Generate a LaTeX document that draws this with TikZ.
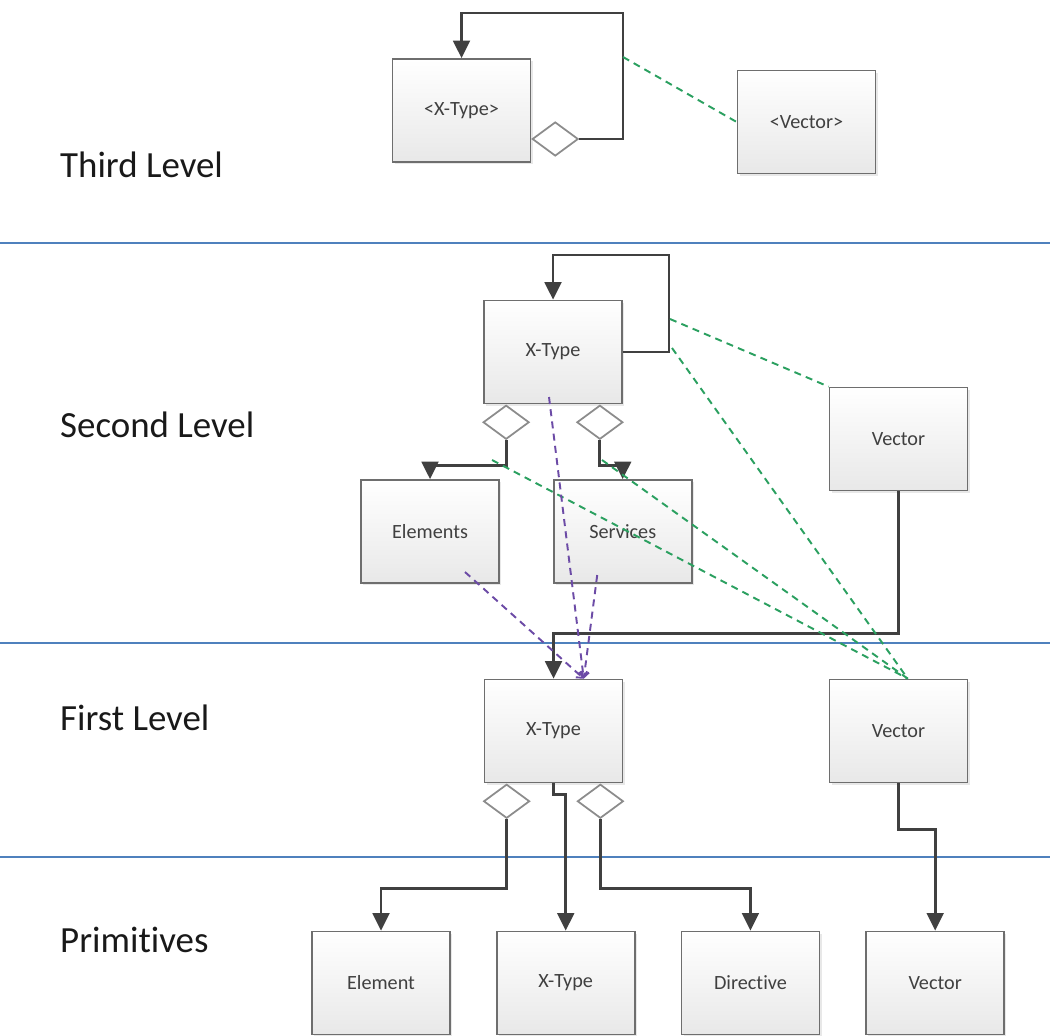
\documentclass[tikz,border=0pt]{standalone}
\usepackage{fontspec}
\setmainfont{Carlito}[Ligatures=NoCommon]
\definecolor{LevelBlue}{HTML}{4F81BD}
\definecolor{LinkGreen}{HTML}{2BA060}
\definecolor{DepPurple}{HTML}{6C4BA6}
\definecolor{BoxLine}{HTML}{6E6E6E}
\definecolor{LineDark}{HTML}{404040}
\definecolor{BoxText}{HTML}{404040}
\usetikzlibrary{arrows.meta, positioning, shapes.geometric, shadows}

\begin{document}
\begin{tikzpicture}[
    x=0.02cm, y=-0.02cm,
    cls/.style={draw=BoxLine, line width=1pt, top color=white, bottom color=black!9,
      minimum width=2.76cm, minimum height=2.06cm, inner sep=0pt,
      font=\fontsize{11.5}{13}\selectfont, text=BoxText,
      drop shadow={opacity=0.18, shadow xshift=1.2pt, shadow yshift=-1.2pt}},
    agg/.style={diamond, draw=black!45, fill=white, line width=1pt,
      minimum width=0.92cm, minimum height=0.68cm, inner sep=0pt},
    conn/.style={draw=LineDark, line width=1.6pt, -{Triangle[length=10pt, width=9.5pt]}},
    assoc/.style={draw=LinkGreen, line width=1.1pt, dash pattern=on 4pt off 3pt},
    dep/.style={draw=DepPurple, line width=1.1pt, dash pattern=on 4pt off 3pt,
      -{Straight Barb[length=3pt, width=5pt]}},
    lvl/.style={anchor=base west, font=\fontsize{21}{25}\selectfont, text=black!90},
    levelline/.style={draw=LevelBlue, line width=0.8pt}
  ]
  \useasboundingbox (0,0) rectangle (1050,1035);

  \draw[levelline] (0,243) -- (1050,243);
  \draw[levelline] (0,643) -- (1050,643);
  \draw[levelline] (0,857) -- (1050,857);

  \node[lvl] (l3) at (54,177) {Third Level};
  \node[lvl] (l2) at (54,437) {Second Level};
  \node[lvl] (l1) at (54,730) {First Level};
  \node[lvl] (l0) at (54,952) {Primitives};

  % third level
  \node[cls] (x3) at (461.5,110.5) {<X-Type>};
  \node[cls] (v3) at (806.5,122) {<Vector>};
  \node[agg, anchor=west] (d3) at ([yshift=-0.57cm]x3.east) {};
  \coordinate (loop3) at (623,13);
  \draw[conn] (d3.east) -| (loop3) -| (x3.north);
  \coordinate (a3) at (623,57);
  \draw[assoc] (a3) -- (v3.west);

  % second level
  \node[cls] (x2) at (553,352) {X-Type};
  \node[cls] (v2) at (898.5,439) {Vector};
  \node[cls] (el) at (430,531.5) {Elements};
  \node[cls, right=1.06cm of el] (sv) {Services};
  \node[agg, anchor=north] (d2l) at ([xshift=0.46cm]x2.south west) {};
  \node[agg, anchor=north] (d2r) at ([xshift=-0.46cm]x2.south east) {};
  \coordinate (loop2) at (669,255);
  \draw[conn] (x2.east) -| (loop2) -| (x2.north);
  \draw[conn] (d2l.south) -- ++(0,25) -| (el.north);
  \draw[conn] (d2r.south) -- ++(0,25) -| (sv.north);

  % first level
  \node[cls] (x1) at (553.5,731) {X-Type};
  \node[cls] (v1) at (898.5,731) {Vector};
  \node[agg, anchor=north] (d1l) at ([xshift=0.46cm]x1.south west) {};
  \node[agg, anchor=north] (d1r) at ([xshift=-0.46cm]x1.south east) {};
  \draw[conn] (v2.south) -- ++(0,142) -| (x1.north);

  % primitives
  \node[cls] (pel) at (381,983) {Element};
  \node[cls, right=0.9cm of pel] (pxt) {X-Type};
  \node[cls, right=0.9cm of pxt] (pdir) {Directive};
  \node[cls, right=0.9cm of pdir] (pv) {Vector};
  \draw[conn] (d1l.south) -- ++(0,69) -| (pel.north);
  \draw[conn] (x1.south) -- ++(0,11) -| (pxt.north);
  \draw[conn] (d1r.south) -- ++(0,69) -| (pdir.north);
  \draw[conn] (v1.south) -- ++(0,46) -| (pv.north);

  % dependencies
  \coordinate (g1) at (670,319);
  \coordinate (g2) at (672,348);
  \coordinate (g3) at (492,460);
  \coordinate (g4) at (602,460);
  \draw[assoc] (g1) -- (v2.north west);
  \draw[assoc] (g2) -- (v1.80);
  \draw[assoc] (g3) -- (v1.80);
  \draw[assoc] (g4) -- (v1.80);
  \draw[dep] ([shift={(35,40.5)}]el.center) -- (x1.60);
  \draw[dep] ([shift={(-4,45)}]x2.center) -- (x1.60);
  \draw[dep] ([shift={(-25.5,43.5)}]sv.center) -- (x1.60);
\end{tikzpicture}
\end{document}
